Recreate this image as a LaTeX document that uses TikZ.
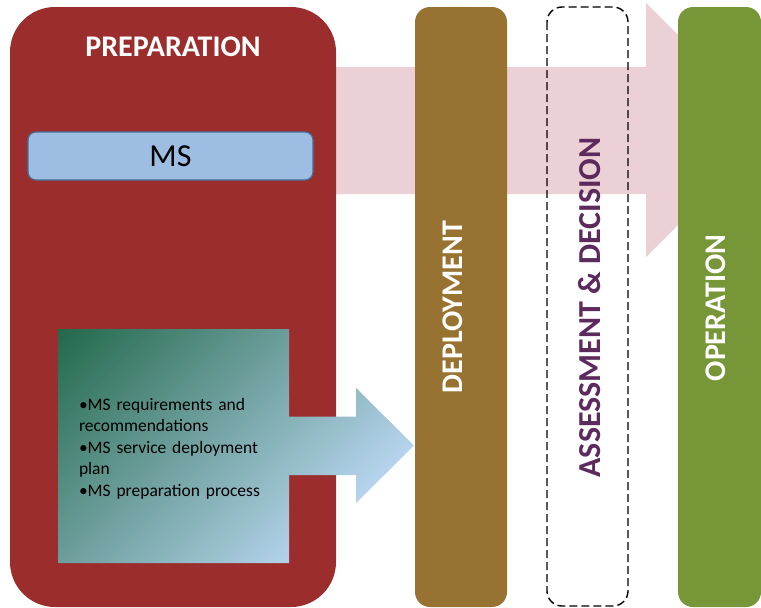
\documentclass[tikz,border=0pt]{standalone}
\usepackage{fontspec}
\setmainfont{Carlito}
\definecolor{prepred}{HTML}{9B2D2D}
\definecolor{pinkarrow}{HTML}{EBD1D6}
\definecolor{msfill}{HTML}{9DBDE3}
\definecolor{msline}{HTML}{41719C}
\definecolor{deploybrown}{HTML}{987230}
\definecolor{opgreen}{HTML}{779637}
\definecolor{assesspurple}{HTML}{5C2A5C}
\definecolor{gdark}{HTML}{22684A}
\definecolor{glight}{HTML}{B7D5EE}
\begin{document}
\begin{tikzpicture}[x=1pt,y=-1pt,
  phase/.style={rounded corners=15pt},
  phasetext/.style={font=\fontsize{30}{32}\selectfont\bfseries,white,rotate=90},
  every node/.style={inner sep=0pt,outer sep=0pt}]
\useasboundingbox (0,0) rectangle (761,608);
% pink arrow behind
\fill[pinkarrow] (320,67) -- (646,67) -- (646,3) -- (773,130) -- (646,257) -- (646,194) -- (320,194) -- cycle;
% preparation box
\fill[prepred,rounded corners=45pt] (10,7) rectangle (336,607);
\node[font=\fontsize{30}{32}\selectfont\bfseries,white] (prep) at (173,47) {PREPARATION};
% MS box
\node[draw=msline,line width=1.2pt,fill=msfill,rounded corners=8pt,minimum width=285pt,minimum height=48pt,font=\fontsize{32}{34}\selectfont] (ms) at (170.5,156) {MS};
% gradient box with arrow
\begin{scope}
\clip (58,329) -- (289,329) -- (289,416.5) -- (356,416.5) -- (356,388) -- (414,445.5) -- (356,503) -- (356,475) -- (289,475) -- (289,563) -- (58,563) -- cycle;
\coordinate (gc) at (206.75,416.75);
\begin{scope}[transform canvas={rotate around={45:(gc)}}]
\shade[top color=gdark,bottom color=glight] (-193.25,248.1) rectangle (606.75,585.4);
\end{scope}
\end{scope}
\node[anchor=north west,align=left,font=\fontsize{17.5}{21.5}\selectfont,text width=220pt] (list) at (79,398)
 {\textbullet MS requirements and\\ recommendations\\ \textbullet MS service deployment\\ plan\\ \textbullet MS preparation process};
% deployment
\fill[phase,deploybrown] (415,7) rectangle (507,607);
\node[phasetext] (dep) at (453,307) {DEPLOYMENT};
% assessment
\draw[phase,draw=black,line width=1.4pt,dash pattern=on 8pt off 4pt] (547,7) rectangle (628,606);
\node[phasetext,assesspurple,font=\fontsize{32}{34}\selectfont\bfseries] (ass) at (590,307.5) {ASSESSMENT \& DECISION};
% operation
\fill[phase,opgreen] (678,7) rectangle (761,607);
\node[phasetext] (op) at (716,308) {OPERATION};
\end{tikzpicture}
\end{document}
